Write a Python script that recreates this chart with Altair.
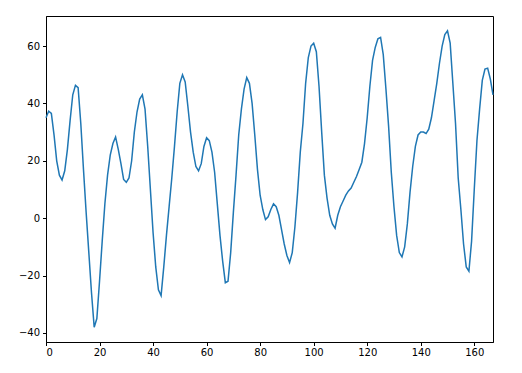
import altair as alt
import pandas as pd

values = [
    35, 37.3, 36.5, 29, 20, 15, 13.3, 16.5, 24, 34,
    43, 46.3, 45.5, 33, 17, 2, -12, -26, -38, -35,
    -22, -8, 5, 15, 22, 26, 28.3, 24, 19, 13.5,
    12.5, 14, 20, 30, 37, 41.5, 43, 38, 25, 10,
    -5, -17, -25, -27, -17, -6, 4, 14, 25, 37,
    47, 50, 47.5, 39, 30, 23, 18, 16.5, 19, 25,
    28, 27, 23, 16, 5, -6, -15, -22.5, -22, -12,
    2, 15, 29, 38, 45, 49, 47, 40, 29, 17,
    8, 3, -0.5, 0.5, 3, 5, 4, 1, -4, -9,
    -13, -15.5, -12, -3, 9, 23, 33, 47, 56, 60,
    61, 58, 46, 30, 15, 7, 1, -2, -3.5, 1,
    4, 6, 8, 9.5, 10.5, 12.5, 14.5, 17, 19.5, 26,
    35, 46, 55, 59.5, 62.5, 63, 57, 45, 32, 16,
    4, -6, -12, -13.5, -10, -2, 9, 18, 25, 29,
    30, 30, 29.5, 31, 35, 41, 47, 54, 60, 64,
    65.3, 61, 47, 33, 14, 3, -9, -17, -18.5, -8,
    10, 27, 38, 48, 52, 52.3, 48.5, 43,
]
index = list(range(len(values)))
x_ticks = [0, 20, 40, 60, 80, 100, 120, 140, 160]
y_ticks = [-40, -20, 0, 20, 40, 60]

df = pd.DataFrame({"x": index, "y": values})

lo, hi = min(values), max(values)
margin = 0.05 * (hi - lo)

chart = (
    alt.Chart(df)
    .mark_line(color="#1f77b4", strokeWidth=1.5)
    .encode(
        x=alt.X(
            "x:Q",
            scale=alt.Scale(domain=[0, len(values) - 1], nice=False, zero=False),
            axis=alt.Axis(values=x_ticks, title=None, format="d", labelPadding=2),
        ),
        y=alt.Y(
            "y:Q",
            scale=alt.Scale(domain=[lo - margin, hi + margin], nice=False, zero=False),
            axis=alt.Axis(values=y_ticks, title=None, format="d", labelPadding=3),
        ),
    )
    .properties(
        width=447,
        height=326,
        autosize=alt.AutoSizeParams(type="none"),
        padding={"left": 46, "top": 16, "right": 29, "bottom": 31},
    )
    .configure_view(stroke="black", strokeWidth=1)
    .configure_axis(
        domainColor="black",
        domainWidth=1,
        tickColor="black",
        tickSize=3.5,
        tickWidth=1,
        grid=False,
        labelFont="DejaVu Sans",
        labelFontSize=10,
        labelColor="black",
    )
)

chart.save("out.html", embed_options={"renderer": "svg", "actions": False})
